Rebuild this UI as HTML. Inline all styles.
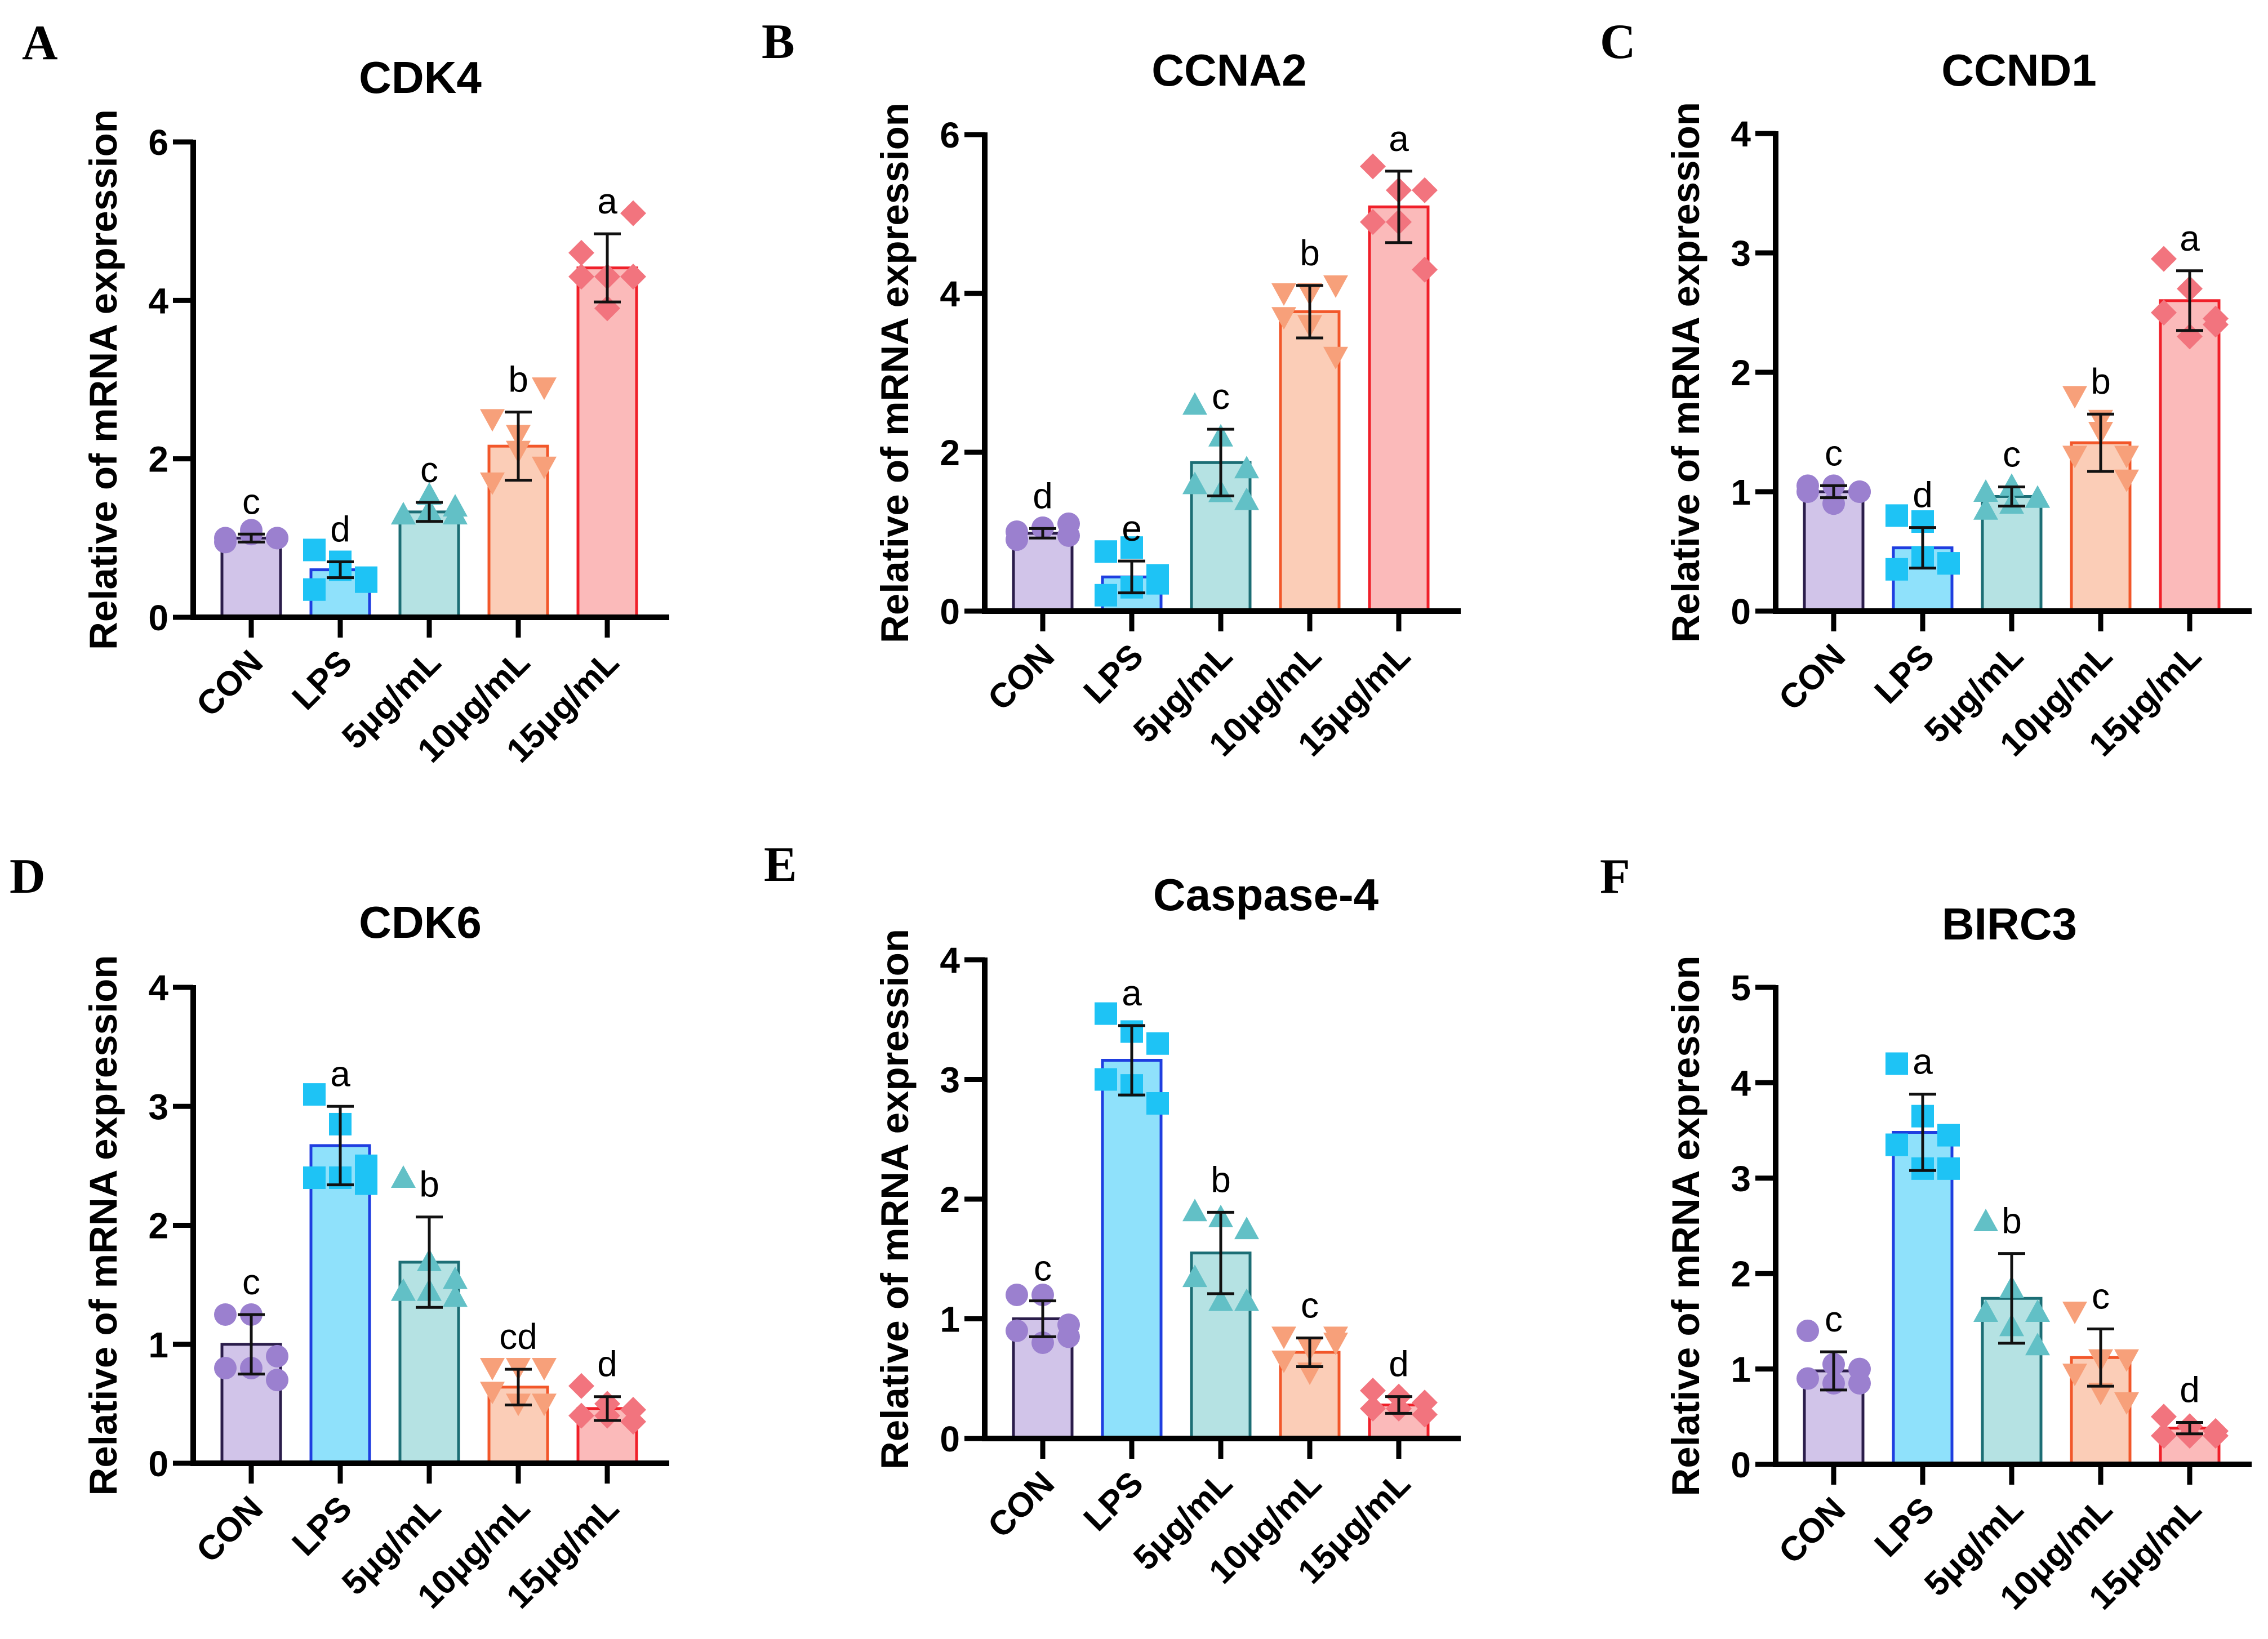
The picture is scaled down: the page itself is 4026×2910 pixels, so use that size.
<!DOCTYPE html>
<html><head><meta charset="utf-8"><style>
html,body{margin:0;padding:0;background:#fff;}
svg{display:block;}
</style></head><body>
<svg id="fig" xmlns="http://www.w3.org/2000/svg" width="4026" height="2910" viewBox="0 0 4026 2910"></svg>
<script>
const categories = ["CON","LPS","5μg/mL","10μg/mL","15μg/mL"];
const titlesA = ["CDK4","CCNA2","CCND1","CDK6","Caspase-4","BIRC3"];
const panelLetters = ["A","B","C","D","E","F"];
const yMaxes = [6,6,4,4,4,5];
const tickSteps = [2,2,1,1,1,1];

const meansA = [1.0,0.6,1.33,2.16,4.41];
const sdA = [0.05,0.1,0.12,0.43,0.43];
const sigA = ["c","d","c","b","a"];
const ptsA = [[1.0,1.1,1.0,0.95,1.05,1.0],[0.85,0.7,0.5,0.35,0.6,0.45],[1.3,1.35,1.4,1.3,1.55,1.3],[2.5,2.3,1.9,1.7,2.1,2.9],[4.6,4.3,4.3,4.3,3.9,5.1]];

const meansB = [0.98,0.43,1.87,3.77,5.09];
const sdB = [0.06,0.2,0.42,0.33,0.45];
const sigB = ["d","e","c","b","a"];
const ptsB = [[1.0,1.05,1.1,0.9,1.05,0.95],[0.75,0.8,0.45,0.2,0.3,0.35],[2.6,2.2,1.8,1.6,1.5,1.4],[4.0,4.0,4.1,3.7,3.6,3.2],[5.6,5.3,5.3,4.9,4.9,4.3]];

const meansC = [1.0,0.53,0.96,1.41,2.6];
const sdC = [0.05,0.17,0.08,0.24,0.25];
const sigC = ["c","d","c","b","a"];
const ptsC = [[1.0,1.05,1.0,1.05,0.9,1.0],[0.8,0.75,0.4,0.35,0.45,0.4],[1.0,1.05,0.95,0.85,0.9,0.95],[1.8,1.6,1.3,1.3,1.5,1.1],[2.95,2.7,2.45,2.5,2.3,2.4]];

const meansD = [1.0,2.67,1.69,0.64,0.46];
const sdD = [0.25,0.33,0.38,0.15,0.1];
const sigD = ["c","a","b","cd","d"];
const ptsD = [[1.25,1.25,0.9,0.8,0.8,0.7],[3.1,2.85,2.5,2.4,2.4,2.35],[2.4,1.7,1.55,1.45,1.45,1.4],[0.8,0.8,0.8,0.6,0.5,0.5],[0.65,0.5,0.45,0.4,0.4,0.35]];

const meansE = [1.0,3.16,1.55,0.72,0.28];
const sdE = [0.15,0.29,0.34,0.12,0.07];
const sigE = ["c","a","b","c","d"];
const ptsE = [[1.2,1.2,0.95,0.9,0.8,0.85],[3.55,3.4,3.3,3.0,2.95,2.8],[1.9,1.85,1.75,1.35,1.15,1.15],[0.85,0.75,0.8,0.65,0.55,0.85],[0.4,0.35,0.3,0.25,0.25,0.2]];

const meansF = [0.98,3.48,1.74,1.12,0.38];
const sdF = [0.2,0.4,0.47,0.3,0.06];
const sigF = ["c","a","b","c","d"];
const ptsF = [[1.4,1.05,1.0,0.9,0.85,0.85],[4.2,3.65,3.45,3.35,3.1,3.1],[2.55,1.85,1.6,1.6,1.45,1.25],[1.6,1.1,1.1,0.95,0.75,0.65],[0.5,0.4,0.35,0.3,0.3,0.3]];

const allMeans=[meansA,meansB,meansC,meansD,meansE,meansF];
const allSd=[sdA,sdB,sdC,sdD,sdE,sdF];
const allSig=[sigA,sigB,sigC,sigD,sigE,sigF];
const allPts=[ptsA,ptsB,ptsC,ptsD,ptsE,ptsF];

const layout=[
 {ax:343,y0:1096,yt:252,title:[746,165],let:[39,105]},
 {ax:1748,y0:1085,yt:239,title:[2182,152],let:[1352,103]},
 {ax:3152,y0:1085,yt:237,title:[3584,152],let:[2840,103]},
 {ax:343,y0:2598,yt:1753,title:[746,1665],let:[17,1585]},
 {ax:1748,y0:2554,yt:1704,title:[2247,1616],let:[1356,1564]},
 {ax:3152,y0:2600,yt:1753,title:[3567,1668],let:[2840,1585]}
];
const fills=["#d1c4e9","#8fe1fb","#b5e2e3","#fbcdb7","#fbbaba"];
const strokes=["#2b1d4b","#1f3ee0","#1c6e75","#f2572a","#f0202a"];
const marks=["#9b80cf","#1ec3f5","#62c0c6","#f7a07a","#f2747e"];
const shapes=["circle","square","tri","tridown","diamond"];
const jit=[-46,0,46,-46,0,46];

const NS="http://www.w3.org/2000/svg";
const svg=document.getElementById("fig");
function mk(tag,attrs,parent){const e=document.createElementNS(NS,tag);for(const k in attrs)e.setAttribute(k,attrs[k]);(parent||svg).appendChild(e);return e;}
const SANS='"Liberation Sans", Arial, sans-serif';

for(let p=0;p<6;p++){
  const L=layout[p];
  const g=mk("g",{});
  
  
  const ymax=yMaxes[p];
  const y=v=>L.y0-(L.y0-L.yt)*v/ymax;
  const x=i=>L.ax+103+i*158;
  const lt=mk("text",{x:L.let[0],y:L.let[1],"font-family":'"Liberation Serif", serif',"font-weight":"bold","font-size":88,fill:"#000"},g);
  lt.textContent=panelLetters[p];
  
  
  const tt=mk("text",{x:L.title[0],y:L.title[1],"text-anchor":"middle","font-family":SANS,"font-weight":"bold","font-size":80,fill:"#000"},g);
  tt.textContent=titlesA[p];
  
  
  const yl=mk("text",{transform:`translate(${L.ax-136},${(L.y0+L.yt)/2}) rotate(-90)`,"text-anchor":"middle","font-family":SANS,"font-weight":"bold","font-size":69,fill:"#000"},g);
  yl.textContent="Relative of mRNA expression";
  
  
  for(let i=0;i<5;i++){
    const m=allMeans[p][i], s=allSd[p][i];
    const r=mk("rect",{x:x(i)-52,y:y(m),width:104,height:L.y0-y(m),fill:fills[i],stroke:strokes[i],"stroke-width":5},g);
    
    
    allPts[p][i].forEach((v,k)=>{
      const px=x(i)+jit[k], py=y(v), sz=20;
      let e;
      if(shapes[i]=="circle") e=mk("circle",{cx:px,cy:py,r:sz,fill:marks[i]},g);
      else if(shapes[i]=="square") e=mk("rect",{x:px-sz,y:py-sz,width:2*sz,height:2*sz,fill:marks[i]},g);
      else if(shapes[i]=="tri") e=mk("polygon",{points:`${px},${py-sz-2} ${px-sz-2},${py+sz-2} ${px+sz+2},${py+sz-2}`,fill:marks[i]},g);
      else if(shapes[i]=="tridown") e=mk("polygon",{points:`${px},${py+sz+2} ${px-sz-2},${py-sz+2} ${px+sz+2},${py-sz+2}`,fill:marks[i]},g);
      else e=mk("polygon",{points:`${px},${py-sz-3} ${px+sz+3},${py} ${px},${py+sz+3} ${px-sz-3},${py}`,fill:marks[i]},g);
      
      
    });
    const eb=mk("path",{d:`M${x(i)},${y(m+s)}V${y(m-s)}M${x(i)-24},${y(m+s)}H${x(i)+24}M${x(i)-24},${y(m-s)}H${x(i)+24}`,stroke:"#111","stroke-width":5,fill:"none"},g);
    
    
    const sl=mk("text",{x:x(i),y:y(m+s)-36,"text-anchor":"middle","font-family":SANS,"font-size":64,fill:"#000"},g);
    sl.textContent=allSig[p][i];
    
    
    const xt=mk("line",{x1:x(i),x2:x(i),y1:L.y0,y2:L.y0+36,stroke:"#000","stroke-width":9},g);
    
    
    const xl=mk("text",{transform:`translate(${x(i)+24},${L.y0+84}) rotate(-45)`,"text-anchor":"end","font-family":SANS,"font-weight":"bold","font-size":61,fill:"#000"},g);
    xl.textContent=categories[i];
    
    
  }
  const ya=mk("line",{x1:L.ax,x2:L.ax,y1:L.yt-4,y2:L.y0+5,stroke:"#000","stroke-width":10},g);
  
  
  const xa=mk("line",{x1:L.ax-5,x2:L.ax+845,y1:L.y0,y2:L.y0,stroke:"#000","stroke-width":10},g);
  
  
  for(let v=0;v<=ymax;v+=tickSteps[p]){
    const t=mk("line",{x1:L.ax-36,x2:L.ax,y1:y(v),y2:y(v),stroke:"#000","stroke-width":9},g);
    
    
    const tl=mk("text",{x:L.ax-44,y:y(v)+23,"text-anchor":"end","font-family":SANS,"font-weight":"bold","font-size":64,fill:"#000"},g);
    tl.textContent=String(v);
    
    
  }
}
</script>
</body></html>
